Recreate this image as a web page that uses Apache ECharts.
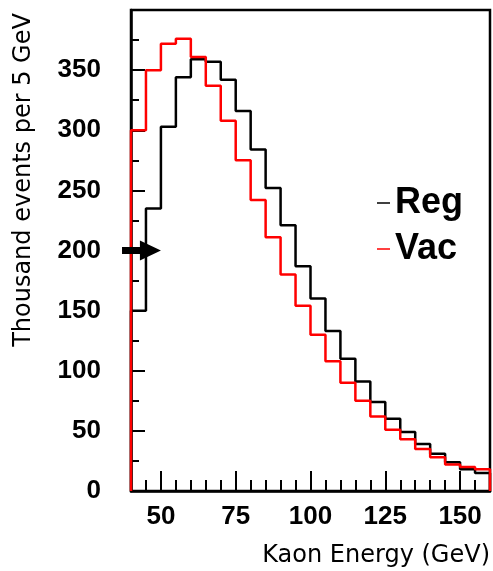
<!DOCTYPE html>
<html>
<head>
<meta charset="utf-8">
<script src="https://cdn.jsdelivr.net/npm/echarts@6/dist/echarts.min.js"></script>
<style>
html,body{margin:0;padding:0;background:#fff;}
#chart{width:493px;height:571px;}
</style>
</head>
<body>
<div id="chart"></div>
<script>
// Bin lower edges (GeV), 5 GeV wide bins
const binStarts = [40,45,50,55,60,65,70,75,80,85,90,95,100,105,110,115,120,125,130,135,140,145,150,155];
const binWidth = 5;
// Thousand events per 5 GeV
const regValues = [150,235,303,344,359,357,342,316,284,252,221,187,160,133,110,91,74,60,49,39,31,24,18,15];
const vacValues = [300,350,372,376,361,337,308,275,242,211,180,154,130,108,90,75,62,51,43,35,28,22,20,18];
// Tick labels
const xTickLabels = [50,75,100,125,150];
const yTickLabels = [0,50,100,150,200,250,300,350];
// Arrow annotation (data coords)
const arrowY = 200, arrowTailX = 37, arrowTipX = 50;

function histData(values){
  const d = [[binStarts[0], 0]];
  for (let i = 0; i < values.length; i++) d.push([binStarts[i], values[i]]);
  const last = binStarts[binStarts.length-1] + binWidth;
  d.push([last, values[values.length-1]]);
  d.push([last, 0]);
  return d;
}

const chart = echarts.init(document.getElementById('chart'), null, {renderer:'canvas'});
const tickFont = {fontFamily:'Liberation Sans, Arial, sans-serif', fontWeight:'bold', fontSize:26, color:'#000'};
const option = {
  animation:false,
  backgroundColor:'#fff',
  grid:{left:131, right:2, top:10, bottom:80, show:true, borderColor:'#000', borderWidth:2.5, backgroundColor:'transparent'},
  legend:{
    orient:'vertical', left:377, top:185, padding:0, itemGap:10,
    icon:'rect', itemWidth:13, itemHeight:1.5,
    textStyle:{fontFamily:'Liberation Sans, Arial, sans-serif', fontWeight:'bold', fontSize:36, lineHeight:36, color:'#000'},
    data:['Reg','Vac']
  },
  xAxis:[{
    type:'value', min:40, max:160, interval:5,
    axisLine:{show:true, onZero:false, lineStyle:{color:'#000', width:2.5}},
    axisTick:{show:true, inside:true, length:11, lineStyle:{color:'#000', width:2}},
    axisLabel:{...tickFont, margin:13, formatter:v => xTickLabels.includes(v) ? String(v) : ''},
    splitLine:{show:false}
  },{
    type:'value', min:40, max:160, position:'bottom',
    axisLine:{show:false},
    axisTick:{show:true, inside:true, length:20, customValues:xTickLabels, lineStyle:{color:'#000', width:2}},
    axisLabel:{show:false},
    splitLine:{show:false}
  }],
  yAxis:{
    type:'value', min:0, max:400, interval:50,
    axisLine:{show:true, lineStyle:{color:'#000', width:2.5}},
    axisTick:{show:true, inside:true, length:14, lineStyle:{color:'#000', width:2}},
    minorTick:{show:true, splitNumber:2, length:8, lineStyle:{color:'#000', width:2}},
    axisLabel:{...tickFont, margin:30, formatter:v => yTickLabels.includes(v) ? String(v) : ''},
    splitLine:{show:false}
  },
  series:[{
    name:'Reg', type:'line', xAxisIndex:0, yAxisIndex:0, step:'end', symbol:'none', clip:false,
    data:histData(regValues), lineStyle:{color:'#000', width:2.5}, itemStyle:{color:'#000'}
  },{
    name:'Vac', type:'line', xAxisIndex:0, yAxisIndex:0, step:'end', symbol:'none', clip:false,
    data:histData(vacValues), lineStyle:{color:'#ff0000', width:2.5}, itemStyle:{color:'#ff0000'}
  }]
};
chart.setOption(option);

const tail = chart.convertToPixel({xAxisIndex:0, yAxisIndex:0}, [arrowTailX, arrowY]);
const tip = chart.convertToPixel({xAxisIndex:0, yAxisIndex:0}, [arrowTipX, arrowY]);
const headLen = 21, headHalf = 10, shaftHalf = 3.5;
chart.setOption({
  graphic:[
    {type:'polygon', z:100, shape:{points:[
      [tail[0], tail[1]-shaftHalf],[tip[0]-headLen, tip[1]-shaftHalf],[tip[0]-headLen, tip[1]-headHalf],
      [tip[0], tip[1]],[tip[0]-headLen, tip[1]+headHalf],[tip[0]-headLen, tip[1]+shaftHalf],[tail[0], tail[1]+shaftHalf]
    ]}, style:{fill:'#000'}},
    {type:'text', x:24, y:180, rotation:Math.PI/2, style:{text:'Thousand events per 5 GeV', fontFamily:'DejaVu Sans, sans-serif', fontSize:24, fill:'#000', align:'center', verticalAlign:'middle'}},
    {type:'text', x:490, y:556, style:{text:'Kaon Energy (GeV)', fontFamily:'DejaVu Sans, sans-serif', fontSize:24, fill:'#000', align:'right', verticalAlign:'middle'}}
  ]
});
</script>
</body>
</html>
